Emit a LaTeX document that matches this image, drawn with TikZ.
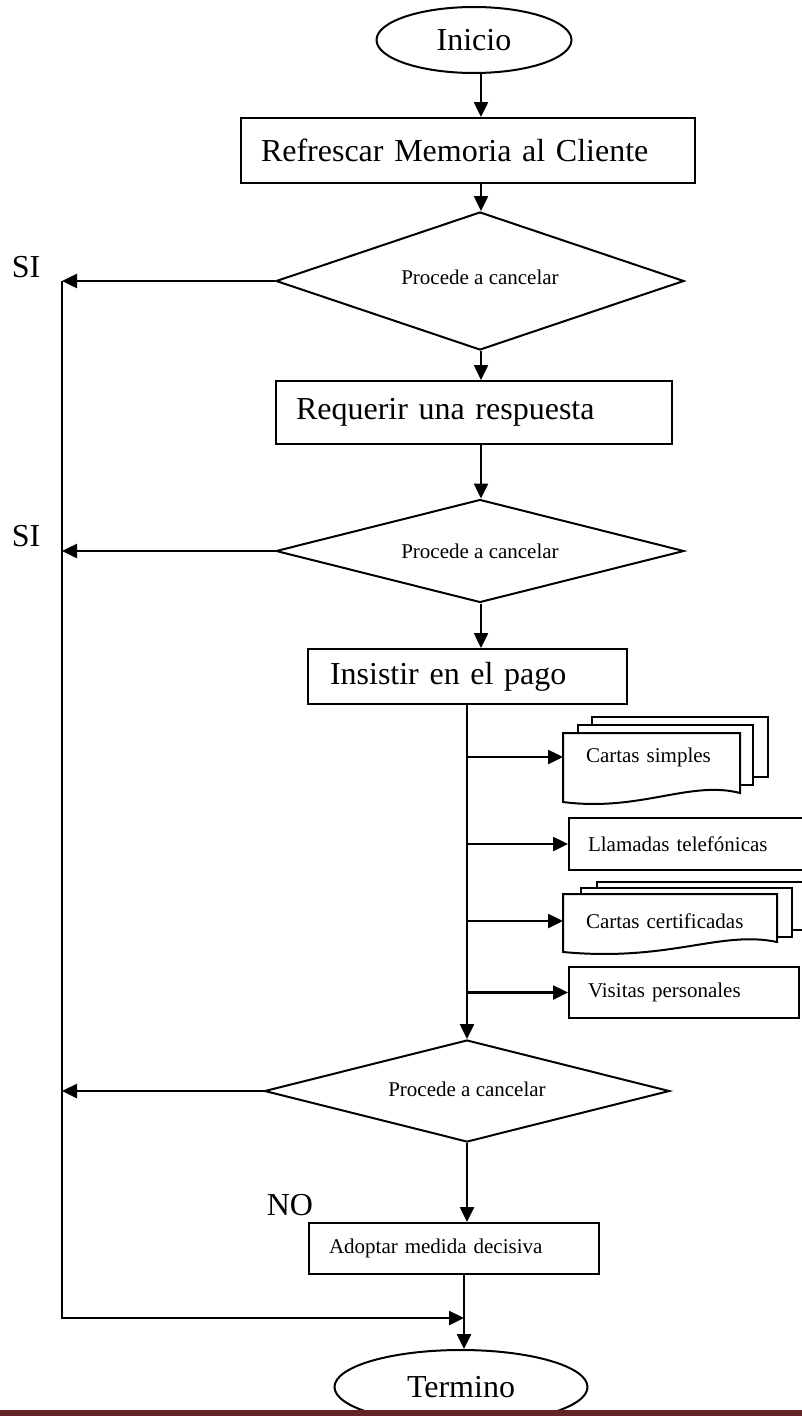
\documentclass[tikz,border=0pt]{standalone}
\usepackage{fontspec}
\setmainfont{Liberation Serif}
\usetikzlibrary{shapes.geometric, arrows.meta, calc, positioning}
\definecolor{barra}{HTML}{632423}

\begin{document}
\begin{tikzpicture}[x=1pt, y=-1pt, line width=2pt,
        flecha/.style={-{Triangle[length=15pt, width=14pt]}, line width=2.5pt},
        grande/.style={font=\fontsize{32}{36}\selectfont},
        chica/.style={font=\fontsize{21}{24}\selectfont}]
    \tikzstyle{extremo}=[ellipse, draw, grande, inner sep=0pt]
    \tikzstyle{caja}=[rectangle, draw, align=left, anchor=north west, inner ysep=0pt]
    \tikzstyle{rombo}=[diamond, draw, chica, aspect=3, inner sep=0pt]
    \tikzstyle{hoja}=[rectangle, draw=none, chica, align=left, anchor=north west, inner ysep=0pt]
    \useasboundingbox (0,0) rectangle (802,1416);
    \clip (0,0) rectangle (802,1416);
    % ejes de las flechas
    \coordinate (ejea) at (481,0);
    \coordinate (ejeb) at (467,0);
    \coordinate (izq) at (62,0);
    \coordinate (union) at (464,1318);
    % flujo principal
    \node[extremo, minimum width=195, minimum height=66] (inicio) at (474,40) {Inicio};
    \node[caja, grande, minimum width=454, minimum height=65, text width=414, inner xsep=20pt] (refrescar) at (240,117) {Refrescar Memoria al Cliente};
    \node[rombo, minimum width=408, minimum height=138] (decision1) at (480,281) {\raisebox{8pt}{Procede a cancelar}};
    \node[caja, grande, minimum width=396, minimum height=63, text width=356, inner xsep=20pt] (requerir) at (275,380) {Requerir una respuesta};
    \node[rombo, minimum width=408, minimum height=103] (decision2) at (480,551) {Procede a cancelar};
    \node[caja, grande, minimum width=319, minimum height=55, text width=275, inner xsep=22pt] (insistir) at (307,648) {Insistir en el pago};
    \node[rombo, minimum width=405, minimum height=102] (decision3) at (467,1091) {\raisebox{4pt}{Procede a cancelar}};
    \node[caja, chica, minimum width=290, minimum height=51, text width=250, inner xsep=20pt] (adoptar) at (308,1222) {Adoptar medida decisiva};
    \node[extremo, minimum width=253, minimum height=74] (termino) at (461,1387) {Termino};
    % acciones de cobro
    \draw[fill=white] (592,717) rectangle (768,777);
    \draw[fill=white] (578,725) rectangle (753,785);
    \draw[fill=white] (563,733) -- (740,733) -- (740,793) .. controls (690,780) and (640,812) .. (563,802) -- cycle;
    \node[hoja, minimum width=177, minimum height=46, text width=140, inner xsep=22pt] (simples) at (563,733) {Cartas simples};
    \node[caja, chica, minimum width=250, minimum height=52, text width=212, inner xsep=19pt] (llamadas) at (568,817) {Llamadas telef\'onicas};
    \draw[fill=white] (597,882) rectangle (820,930);
    \draw[fill=white] (581,888) rectangle (792,937);
    \draw[fill=white] (563,894) -- (777,894) -- (777,942) .. controls (720,930) and (670,962) .. (563,952) -- cycle;
    \node[hoja, minimum width=214, minimum height=52, text width=180, inner xsep=22pt] (certificadas) at (563,894) {Cartas certificadas};
    \node[caja, chica, minimum width=230, minimum height=51, text width=192, inner xsep=19pt] (visitas) at (568,966) {Visitas personales};
    % etiquetas
    \node[grande] (si1) at (26,267) {SI};
    \node[grande] (si2) at (26,536) {SI};
    \node[grande] (no) at (290,1205) {NO};
    % conectores
    \draw[flecha] (inicio.south -| ejea) -- (refrescar.north -| ejea);
    \draw[flecha] (refrescar.south -| ejea) -- (decision1.north -| ejea);
    \draw[flecha] (decision1.south -| ejea) -- (requerir.north -| ejea);
    \draw[flecha] (requerir.south -| ejea) -- (decision2.north -| ejea);
    \draw[flecha] (decision2.south -| ejea) -- (insistir.north -| ejea);
    \draw[flecha] (insistir.south -| ejeb) -- (decision3.north);
    \foreach \doc in {simples, llamadas, certificadas, visitas}
        \draw[flecha] (\doc.west -| ejeb) -- (\doc.west);
    \draw[flecha] (decision3.south) -- (adoptar.north -| decision3.south);
    \draw[flecha] (adoptar.south -| union) -- (termino.north -| union);
    \draw[flecha] (decision1.west) -- (decision1.west -| izq);
    \draw[flecha] (decision2.west) -- (decision2.west -| izq);
    \draw[flecha] (decision3.west) -- (decision3.west -| izq);
    \draw[flecha] (decision1.west -| izq) -- (izq |- union) -- (union);
    % franja inferior
    \fill[barra] (0,1410) rectangle (802,1416);
\end{tikzpicture}
\end{document}
